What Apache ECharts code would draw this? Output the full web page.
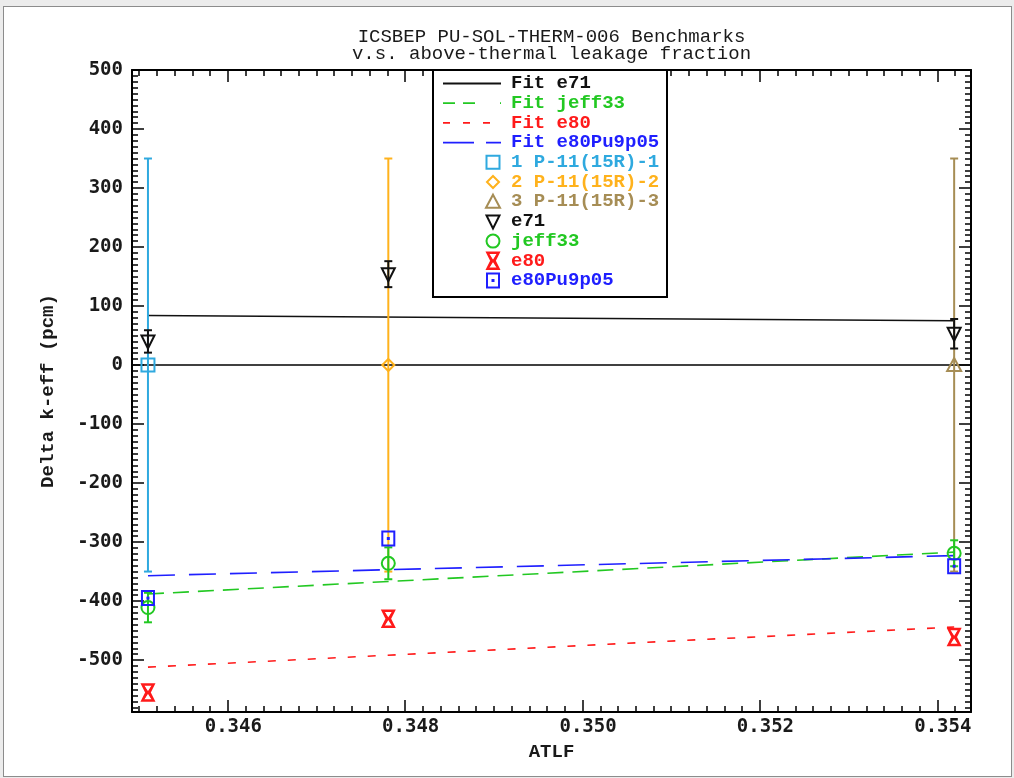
<!DOCTYPE html>
<html>
<head>
<meta charset="utf-8">
<script src="https://cdn.jsdelivr.net/npm/echarts@6/dist/echarts.min.js"></script>
<style>
  html, body { margin: 0; padding: 0; background: #ececec; }
  #frame { position: absolute; left: 3px; top: 6px; width: 1009px; height: 771px;
           background: #fff; border: 1px solid #8c8c8c; box-sizing: border-box; }
  #chart { position: absolute; left: 0; top: 0; width: 1014px; height: 778px; }
</style>
</head>
<body>
<div id="frame"></div>
<div id="chart"></div>
<script>
// Above-thermal leakage fraction of each benchmark case
const atlf = [0.34510, 0.34781, 0.35419];

// Benchmark cases (experimental reference, delta = 0 with its uncertainty)
const benchNames = ['1 P-11(15R)-1', '2 P-11(15R)-2', '3 P-11(15R)-3'];
const benchDelta = [0, 0, 0];
const benchUnc = [350, 350, 350];

// Calculated minus experimental k-eff (pcm) per library
const e71 = [40, 154, 53];
const e71Unc = [19, 22, 25];
const jeff33 = [-411, -336, -319];
const jeff33Unc = [25, 27, 22];
const e80 = [-555, -430, -461];
const e80Unc = [0, 0, 0];
const e80Pu9p05 = [-395, -294, -341];
const e80Pu9p05Unc = [0, 0, 0];

// Linear fits, values at the first and last ATLF point
const fitE71 = [84, 75];
const fitJeff33 = [-388, -317];
const fitE80 = [-512, -444];
const fitE80Pu9p05 = [-357, -323];

// Axis ranges
const xRange = [0.34492, 0.35438];
const yRange = [-588, 500];

const C = {
  black: '#111111', green: '#22c822', red: '#ff1a1a', blue: '#1f1fff',
  b1: '#2fa9df', b2: '#ffb21c', b3: '#a68d55'
};

// Outline symbols drawn with zrender primitives
function symbolShape(kind, cx, cy, color, z) {
  const st = { stroke: color, fill: 'none', lineWidth: 2 };
  const zz = z || 0;
  switch (kind) {
    case 'square':
      return { type: 'rect', z: zz, shape: { x: cx - 6.5, y: cy - 6.5, width: 13, height: 13 }, style: st };
    case 'diamond':
      return { type: 'polygon', z: zz, shape: { points: [[cx, cy - 6], [cx + 6, cy], [cx, cy + 6], [cx - 6, cy]] }, style: st };
    case 'triangle':
      return { type: 'polygon', z: zz, shape: { points: [[cx, cy - 7], [cx + 7, cy + 6], [cx - 7, cy + 6]] }, style: st };
    case 'triangleDown':
      return { type: 'polygon', z: zz, shape: { points: [[cx - 6.5, cy - 6], [cx + 6.5, cy - 6], [cx, cy + 7]] }, style: st };
    case 'circle':
      return { type: 'circle', z: zz, shape: { cx: cx, cy: cy, r: 6.5 }, style: st };
    case 'hourglass':
      return { type: 'group', children: [
        { type: 'polygon', z: zz, shape: { points: [[cx - 5.5, cy - 8], [cx + 5.5, cy - 8], [cx + 1.5, cy], [cx + 5.5, cy + 8], [cx - 5.5, cy + 8], [cx - 1.5, cy]] },
          style: { stroke: color, fill: 'none', lineWidth: 2.5 } },
        { type: 'line', z: zz, shape: { x1: cx - 4, y1: cy - 6, x2: cx + 4, y2: cy + 6 }, style: { stroke: color, lineWidth: 1.5 } },
        { type: 'line', z: zz, shape: { x1: cx + 4, y1: cy - 6, x2: cx - 4, y2: cy + 6 }, style: { stroke: color, lineWidth: 1.5 } }
      ] };
    case 'dotSquare':
      return { type: 'group', children: [
        { type: 'rect', z: zz, shape: { x: cx - 6, y: cy - 7, width: 12, height: 14 }, style: st },
        { type: 'rect', z: zz, shape: { x: cx - 1.5, y: cy - 1.5, width: 3, height: 3 }, style: { fill: color } }
      ] };
  }
}

// Points with vertical error bars
function pointSeries(name, xs, ys, errs, color, kind, z) {
  return {
    type: 'custom', name: name, xAxisIndex: 0, yAxisIndex: 0, z: z,
    data: xs.map((x, i) => [x, ys[i], errs[i]]),
    renderItem: function (params, api) {
      const x = api.value(0), y = api.value(1), e = api.value(2);
      const c = api.coord([x, y]);
      const children = [];
      if (e > 0) {
        const t = api.coord([x, y + e])[1], b = api.coord([x, y - e])[1];
        const ls = { stroke: color, lineWidth: 2 };
        children.push({ type: 'line', shape: { x1: c[0], y1: t, x2: c[0], y2: b }, style: ls });
        children.push({ type: 'line', shape: { x1: c[0] - 4, y1: t, x2: c[0] + 4, y2: t }, style: ls });
        children.push({ type: 'line', shape: { x1: c[0] - 4, y1: b, x2: c[0] + 4, y2: b }, style: ls });
      }
      children.push(symbolShape(kind, c[0], c[1], color));
      return { type: 'group', children: children };
    }
  };
}

function fitSeries(name, vals, color, dash) {
  return {
    type: 'line', name: name, xAxisIndex: 0, yAxisIndex: 0, z: 3,
    data: [[atlf[0], vals[0]], [atlf[atlf.length - 1], vals[1]]],
    symbol: 'none', silent: true,
    lineStyle: { color: color, width: 1.6, type: dash }
  };
}

const labelFont = { fontFamily: 'DejaVu Sans Mono', fontWeight: 'bold', fontSize: 19, color: '#1a1a1a' };
const nameFont = { fontFamily: 'Liberation Mono', fontWeight: 'bold', fontSize: 19, color: '#1a1a1a' };

function xAxisDef(pos, minor, withLabels) {
  return {
    type: 'value', position: pos, min: xRange[0], max: xRange[1],
    splitNumber: minor ? 47 : 5,
    axisLine: { show: !minor, onZero: false, lineStyle: { color: '#000', width: 2 } },
    axisTick: { show: true, inside: true, length: minor ? 6 : 12, lineStyle: { color: '#000', width: 1.5 } },
    axisLabel: withLabels ? Object.assign({ show: true, margin: 6, padding: [0, 0, 0, 11],
      showMinLabel: false, showMaxLabel: false, formatter: v => v.toFixed(3) }, labelFont) : { show: false },
    splitLine: { show: false },
    name: withLabels ? 'ATLF' : '', nameLocation: 'middle', nameGap: 31, nameMoveOverlap: false,
    nameTextStyle: nameFont
  };
}
function yAxisDef(pos, minor, withLabels) {
  return {
    type: 'value', position: pos, min: yRange[0], max: yRange[1],
    splitNumber: minor ? 109 : 11,
    axisLine: { show: !minor, onZero: false, lineStyle: { color: '#000', width: 2 } },
    axisTick: { show: true, inside: true, length: minor ? 6 : 12, lineStyle: { color: '#000', width: 1.5 } },
    axisLabel: withLabels ? Object.assign({ show: true, margin: 9, showMinLabel: false, showMaxLabel: true }, labelFont) : { show: false },
    splitLine: { show: false },
    name: withLabels ? 'Delta k-eff (pcm)' : '', nameLocation: 'middle', nameGap: 74, nameTextStyle: nameFont
  };
}

// Legend drawn as a framed box inside the plot, above the axis ticks
const LZ = 200;
const legendRows = [
  { label: 'Fit e71', color: C.black, line: 'solid' },
  { label: 'Fit jeff33', color: C.green, line: [12, 8, 12, 25, 2, 8] },
  { label: 'Fit e80', color: C.red, line: [7, 13] },
  { label: 'Fit e80Pu9p05', color: C.blue, line: [31, 12] },
  { label: benchNames[0], color: C.b1, sym: 'square' },
  { label: benchNames[1], color: C.b2, sym: 'diamond' },
  { label: benchNames[2], color: C.b3, sym: 'triangle' },
  { label: 'e71', color: C.black, sym: 'triangleDown' },
  { label: 'jeff33', color: C.green, sym: 'circle' },
  { label: 'e80', color: C.red, sym: 'hourglass' },
  { label: 'e80Pu9p05', color: C.blue, sym: 'dotSquare' }
];
const legendEls = [{ type: 'rect', z: LZ, shape: { x: 433, y: 70, width: 234, height: 227 },
  style: { fill: '#fff', stroke: '#000', lineWidth: 2 } }];
legendRows.forEach((r, i) => {
  const y = 83.5 + i * 19.7;
  if (r.line) {
    legendEls.push({ type: 'line', z: LZ + 1, shape: { x1: 443, y1: y, x2: 501, y2: y },
      style: { stroke: r.color, lineWidth: 1.8, lineDash: r.line === 'solid' ? null : r.line } });
  } else {
    legendEls.push(symbolShape(r.sym, 493, y, r.color, LZ + 1));
  }
  legendEls.push({ type: 'text', z: LZ + 1, x: 511, y: y, style: { text: r.label, fill: r.color,
    font: 'bold 19px "Liberation Mono"', textVerticalAlign: 'middle', textAlign: 'left' } });
});

const chart = echarts.init(document.getElementById('chart'), null, { renderer: 'canvas' });
chart.setOption({
  backgroundColor: 'transparent',
  animation: false,
  grid: { left: 132, right: 43, top: 70, bottom: 66, containLabel: false },
  xAxis: [xAxisDef('bottom', false, true), xAxisDef('bottom', true, false),
          xAxisDef('top', false, false), xAxisDef('top', true, false)],
  yAxis: [yAxisDef('left', false, true), yAxisDef('left', true, false),
          yAxisDef('right', false, false), yAxisDef('right', true, false)],
  graphic: [
    { type: 'text', x: 551.5, y: 37, style: { text: 'ICSBEP PU-SOL-THERM-006 Benchmarks', fill: '#1a1a1a',
      font: '19px "Liberation Mono"', textAlign: 'center', textVerticalAlign: 'middle' } },
    { type: 'text', x: 551.5, y: 54, style: { text: 'v.s. above-thermal leakage fraction', fill: '#1a1a1a',
      font: '19px "Liberation Mono"', textAlign: 'center', textVerticalAlign: 'middle' } },
    { type: 'group', z: LZ, children: legendEls }
  ],
  series: [
    { type: 'line', name: 'zero', xAxisIndex: 0, yAxisIndex: 0, z: 2, symbol: 'none', silent: true,
      data: [[xRange[0], 0], [xRange[1], 0]], lineStyle: { color: '#000', width: 1.6 } },
    fitSeries('Fit e71', fitE71, C.black, 'solid'),
    fitSeries('Fit jeff33', fitJeff33, C.green, [16, 9]),
    fitSeries('Fit e80', fitE80, C.red, [8, 12]),
    fitSeries('Fit e80Pu9p05', fitE80Pu9p05, C.blue, [27, 14]),
    pointSeries(benchNames[0], [atlf[0]], [benchDelta[0]], [benchUnc[0]], C.b1, 'square', 4),
    pointSeries(benchNames[1], [atlf[1]], [benchDelta[1]], [benchUnc[1]], C.b2, 'diamond', 4),
    pointSeries(benchNames[2], [atlf[2]], [benchDelta[2]], [benchUnc[2]], C.b3, 'triangle', 4),
    pointSeries('e71', atlf, e71, e71Unc, C.black, 'triangleDown', 5),
    pointSeries('jeff33', atlf, jeff33, jeff33Unc, C.green, 'circle', 6),
    pointSeries('e80', atlf, e80, e80Unc, C.red, 'hourglass', 7),
    pointSeries('e80Pu9p05', atlf, e80Pu9p05, e80Pu9p05Unc, C.blue, 'dotSquare', 8)
  ]
});
</script>
</body>
</html>
